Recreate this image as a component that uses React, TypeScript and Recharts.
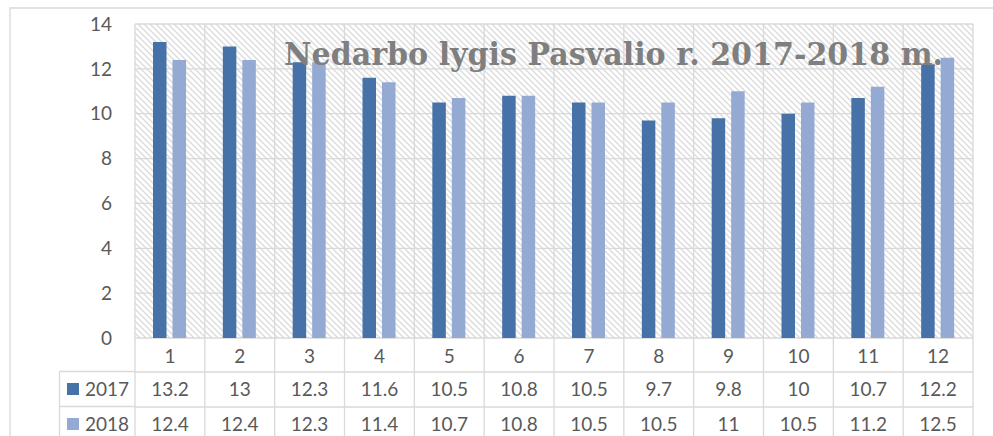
import React from 'react';
import { BarChart, Bar, XAxis, YAxis, CartesianGrid } from 'recharts';

// months shown in the data table header row
const months = ['1', '2', '3', '4', '5', '6', '7', '8', '9', '10', '11', '12'];
const values2017 = [13.2, 13, 12.3, 11.6, 10.5, 10.8, 10.5, 9.7, 9.8, 10, 10.7, 12.2];
const values2018 = [12.4, 12.4, 12.3, 11.4, 10.7, 10.8, 10.5, 10.5, 11, 10.5, 11.2, 12.5];
const seriesNames = ['2017', '2018'];
const yTicks = [0, 2, 4, 6, 8, 10, 12, 14];
const title = 'Nedarbo lygis Pasvalio r. 2017-2018 m.';

const COLORS = ['#4672A8', '#95AAD3'];
const GRID = '#d9d9d9';
const TEXT = '#595959';
const FONT = 'Lato, "Open Sans", sans-serif';
const FS = 19;

const W = 993;
const H = 436;
const PLOT_LEFT = 135;
const PLOT_RIGHT = 973;
const PLOT_BOTTOM = 338;
const BAND = (PLOT_RIGHT - PLOT_LEFT) / months.length;

const data = months.map((m, i) => ({ month: m, y2017: values2017[i], y2018: values2018[i] }));
const rows = [values2017, values2018];

// each x tick draws one column of the data table below the plot
const TableTick = (props: any) => {
  const { x, y, payload, index } = props;
  const left = x - BAND / 2;
  const right = x + BAND / 2;
  const i = index ?? months.indexOf(String(payload.value));
  return (
    <g>
      <line x1={left} y1={y} x2={left} y2={H} stroke={GRID} strokeWidth={1.3} />
      {i === months.length - 1 && (
        <line x1={right} y1={y} x2={right} y2={H} stroke={GRID} strokeWidth={1.3} />
      )}
      <line x1={left} y1={y + 34} x2={right} y2={y + 34} stroke={GRID} strokeWidth={1.3} />
      <line x1={left} y1={y + 69} x2={right} y2={y + 69} stroke={GRID} strokeWidth={1.3} />
      <text x={x} y={y + 25} textAnchor="middle" fill={TEXT} fontSize={FS} fontFamily={FONT}>
        {payload.value}
      </text>
      {rows.map((r, k) => (
        <text key={k} x={x} y={y + 58 + k * 35} textAnchor="middle" fill={TEXT} fontSize={FS} fontFamily={FONT}>
          {r[i]}
        </text>
      ))}
    </g>
  );
};

const App: React.FC = () => {
  return (
    <div style={{ position: 'absolute', left: 0, top: 0, width: W, height: H, background: '#fff', overflow: 'hidden' }}>
      <svg width={0} height={0} style={{ position: 'absolute' }}>
        <defs>
          <pattern id="hatch" patternUnits="userSpaceOnUse" width={6} height={6}>
            <rect width={6} height={6} fill="#fff" />
            <path d="M-1,-1 L7,7 M-1,5 L1,7 M5,-1 L7,1" stroke="#dcdcdc" strokeWidth={1.4} />
          </pattern>
        </defs>
      </svg>
      <BarChart
        width={W}
        height={H}
        data={data}
        margin={{ top: 24, right: W - PLOT_RIGHT, left: 0, bottom: 0 }}
        barGap={6}
        barSize={13.5}
      >
        <CartesianGrid
          fill="url(#hatch)"
          stroke={GRID}
          strokeWidth={1.3}
          verticalCoordinatesGenerator={({ offset }: any) =>
            months.map((_, i) => offset.left + (i * offset.width) / months.length).concat(offset.left + offset.width)
          }
        />
        <XAxis
          dataKey="month"
          height={H - PLOT_BOTTOM}
          axisLine={false}
          tickLine={false}
          tickSize={0}
          tickMargin={0}
          interval={0}
          tick={<TableTick />}
        />
        <YAxis
          domain={[0, 14]}
          ticks={yTicks}
          width={PLOT_LEFT}
          axisLine={false}
          tickLine={false}
          tickSize={0}
          tickMargin={23}
          tick={{ fill: TEXT, fontSize: FS, fontFamily: FONT }}
        />
        <Bar dataKey="y2017" name={seriesNames[0]} fill={COLORS[0]} isAnimationActive={false} />
        <Bar dataKey="y2018" name={seriesNames[1]} fill={COLORS[1]} isAnimationActive={false} />
      </BarChart>
      <svg width={W} height={H} style={{ position: 'absolute', left: 0, top: 0, pointerEvents: 'none' }}>
        <path d={`M10,${H} L10,8 L${W},8`} fill="none" stroke={GRID} strokeWidth={1.3} />
        <line x1={59.5} y1={371.5} x2={PLOT_LEFT} y2={371.5} stroke={GRID} strokeWidth={1.3} />
        <line x1={59.5} y1={406.5} x2={PLOT_LEFT} y2={406.5} stroke={GRID} strokeWidth={1.3} />
        <line x1={59.5} y1={371.5} x2={59.5} y2={H} stroke={GRID} strokeWidth={1.3} />
        {seriesNames.map((s, k) => (
          <g key={s}>
            <rect x={67} y={383 + k * 35} width={12} height={12} fill={COLORS[k]} />
            <text x={85} y={396 + k * 35} fill={TEXT} fontSize={FS} fontFamily={FONT}>
              {s}
            </text>
          </g>
        ))}
        <text
          x={284}
          y={65}
          fill="#7f7f7f"
          fontSize={31}
          fontWeight="bold"
          fontFamily='"DejaVu Serif", "Liberation Serif", serif'
          textLength={659}
          lengthAdjust="spacingAndGlyphs"
        >
          {title}
        </text>
      </svg>
    </div>
  );
};

export default App;
